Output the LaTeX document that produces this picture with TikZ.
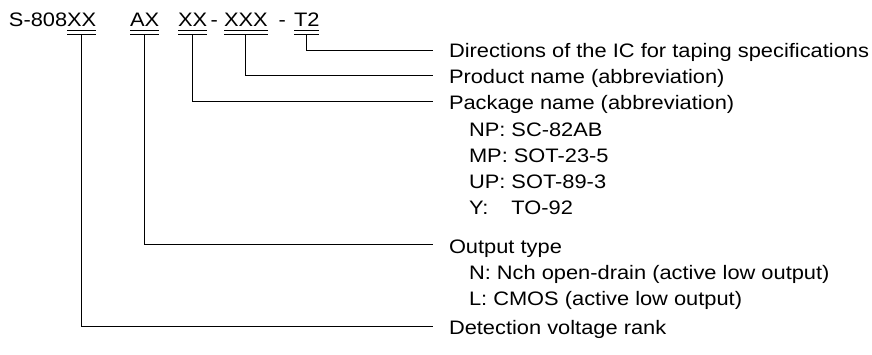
\documentclass[tikz,border=0pt]{standalone}
\usepackage{fontspec}
\usepackage{calc}
\setmainfont{Liberation Sans}[FakeStretch=1.12]
\begin{document}
\begin{tikzpicture}[x=1pt,y=-1pt,
  txt/.style={inner sep=0pt,outer sep=0pt,anchor=base west,font=\fontsize{19.5}{26}\selectfont},
  ln/.style={line width=1pt,black},
  ul/.style={line width=0.9pt,black}]
\useasboundingbox (0,0) rectangle (872,354);
% top code
\node[txt] (s) at (9,26.5) {S-808};
\node[txt] (xa) at (67,26.5) {XX};
\node[txt] (ax) at (130,26.5) {AX};
\node[txt] (xb) at (178,26.5) {XX};
\node[txt] (h1) at (210.5,26.5) {-};
\node[txt] (xc) at (224,26.5) {XXX};
\node[txt] (h2) at (278.5,26.5) {-};
\node[txt] (tt) at (294,26.5) {T2};
\foreach \n in {xa,ax,xb,xc,tt}{
  \draw[ul] ([yshift=-4.3pt]\n.base west) -- ([yshift=-4.3pt]\n.base east);
  \draw[ul] ([yshift=-7.6pt]\n.base west) -- ([yshift=-7.6pt]\n.base east);
}
% labels
\node[txt] (l1) at (449,57) {Directions of the IC for taping specifications};
\node[txt] (l2) at (449,83) {Product name (abbreviation)};
\node[txt] (l3) at (449,109) {Package name (abbreviation)};
\node[txt] (p1) at (469,136) {NP: SC-82AB};
\node[txt] (p2) at (469,162) {MP: SOT-23-5};
\node[txt] (p3) at (469,188) {UP: SOT-89-3};
\node[txt] (p4) at (469,214) {\makebox[\widthof{NP: }][l]{Y:}TO-92};
\node[txt] (l4) at (449,253) {Output type};
\node[txt] (o1) at (469,279) {N: Nch open-drain (active low output)};
\node[txt] (o2) at (469,305) {L: CMOS (active low output)};
\node[txt] (l5) at (449,334) {Detection voltage rank};
% connector ends
\coordinate (e1) at (433,50);
\coordinate (e2) at (433,75.5);
\coordinate (e3) at (433,101);
\coordinate (e4) at (433,244);
\coordinate (e5) at (433,326);
\draw[ln] ([yshift=-7.6pt]tt.base) |- (e1);
\draw[ln] ([yshift=-7.6pt]xc.base) |- (e2);
\draw[ln] ([yshift=-7.6pt]xb.base) |- (e3);
\draw[ln] ([yshift=-7.6pt]ax.base) |- (e4);
\draw[ln] ([yshift=-7.6pt]xa.base) |- (e5);
\end{tikzpicture}
\end{document}
